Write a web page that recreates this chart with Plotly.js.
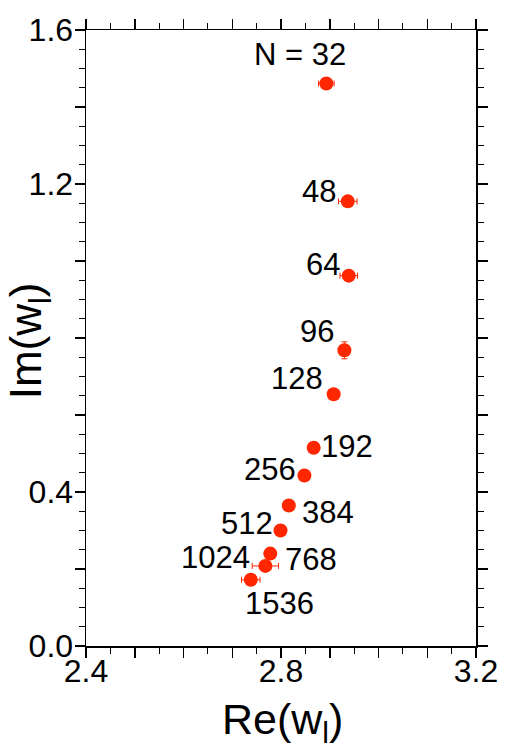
<!DOCTYPE html>
<html>
<head>
<meta charset="utf-8">
<script src="https://cdn.plot.ly/plotly-3.0.1.min.js"></script>
<style>
  html, body { margin: 0; padding: 0; background: #fff; }
  #plot { width: 506px; height: 748px; }
</style>
</head>
<body>
<div id="plot"></div>
<script>
// System sizes N and the complex value w_l measured at each size
const sizes = [32, 48, 64, 96, 128, 192, 256, 384, 512, 768, 1024, 1536];
const reW   = [2.893, 2.937, 2.939, 2.930, 2.908, 2.867, 2.848, 2.816, 2.799, 2.778, 2.768, 2.738];
const imW   = [1.461, 1.155, 0.962, 0.768, 0.654, 0.515, 0.443, 0.365, 0.300, 0.240, 0.208, 0.172];
const reErr = [0.016, 0.019, 0.018, 0.000, 0.000, 0.000, 0.000, 0.000, 0.000, 0.000, 0.027, 0.019];
const imErr = [0.000, 0.000, 0.000, 0.022, 0.000, 0.000, 0.000, 0.000, 0.000, 0.000, 0.000, 0.000];
const pointLabels = ['N = 32', '48', '64', '96', '128', '192', '256', '384', '512', '768', '1024', '1536'];

// Axis ticks: long ticks with sparse labels
const xTickVals = [2.4, 2.5, 2.6, 2.7, 2.8, 2.9, 3.0, 3.1, 3.2];
const xTickText = ['2.4', ' ', ' ', ' ', '2.8', ' ', ' ', ' ', '3.2'];
const yTickVals = [0.0, 0.2, 0.4, 0.6, 0.8, 1.0, 1.2, 1.4, 1.6];
const yTickText = ['0.0', ' ', '0.4', ' ', ' ', ' ', '1.2', ' ', '1.6'];

// Pixel offsets of each label from its point
const labelOffsets = [
  [-26, -29], [-29, -10], [-26, -11], [-27, -19], [-37, -16], [33, -1],
  [-34, -6], [39, 7], [-34, -7], [41, 6], [-50, -8], [29, 24]
];

const RED = 'rgb(255,38,0)';
const FONT = 'Liberation Sans, Arial, Helvetica, sans-serif';

const trace = {
  type: 'scatter',
  mode: 'markers',
  x: reW,
  y: imW,
  marker: { color: RED, size: 14, line: { width: 0 } },
  error_x: { type: 'data', array: reErr, visible: true, color: RED, thickness: 1, width: 3 },
  error_y: { type: 'data', array: imErr, visible: true, color: RED, thickness: 1, width: 3 },
  hoverinfo: 'skip'
};

const annotations = sizes.map((n, i) => ({
  x: reW[i], y: imW[i], xref: 'x', yref: 'y',
  text: pointLabels[i],
  showarrow: true, arrowcolor: 'rgba(0,0,0,0)', arrowwidth: 0.1,
  ax: labelOffsets[i][0], ay: labelOffsets[i][1],
  xanchor: 'center', yanchor: 'middle',
  font: { family: FONT, size: 31, color: '#000' }
}));

annotations.push({
  xref: 'paper', yref: 'paper', x: 0.503, y: -0.123,
  text: 'Re(w<sub>l</sub>)', showarrow: false,
  xanchor: 'center', yanchor: 'middle',
  font: { family: FONT, size: 43, color: '#000' }
});
annotations.push({
  xref: 'paper', yref: 'paper', x: -0.144, y: 0.496,
  text: 'Im(w<sub>l</sub>)', showarrow: false, textangle: -90,
  xanchor: 'center', yanchor: 'middle',
  font: { family: FONT, size: 44, color: '#000' }
});

const axisCommon = {
  showgrid: false, zeroline: false,
  showline: true, linecolor: '#000', linewidth: 1.5,
  mirror: 'ticks', ticks: 'outside', ticklen: 10, tickwidth: 1.5, tickcolor: '#000',
  tickmode: 'array',
  tickfont: { family: FONT, size: 32, color: '#000' },
  minor: { ticks: 'outside', ticklen: 6, tickwidth: 1.2, tickcolor: '#000', showgrid: false }
};

const layout = {
  width: 506, height: 748,
  margin: { l: 86, r: 30, t: 30, b: 102, pad: 0 },
  paper_bgcolor: '#fff', plot_bgcolor: '#fff',
  showlegend: false,
  xaxis: Object.assign({}, axisCommon, {
    range: [2.4, 3.2], tickvals: xTickVals, ticktext: xTickText,
    ticklabelstandoff: -14,
    minor: Object.assign({}, axisCommon.minor, { dtick: 0.05, tick0: 2.4 })
  }),
  yaxis: Object.assign({}, axisCommon, {
    range: [0, 1.6], tickvals: yTickVals, ticktext: yTickText,
    ticklabelstandoff: -5,
    minor: Object.assign({}, axisCommon.minor, { dtick: 0.05, tick0: 0 })
  }),
  annotations: annotations
};

Plotly.newPlot('plot', [trace], layout, { staticPlot: true, displayModeBar: false });
</script>
</body>
</html>
